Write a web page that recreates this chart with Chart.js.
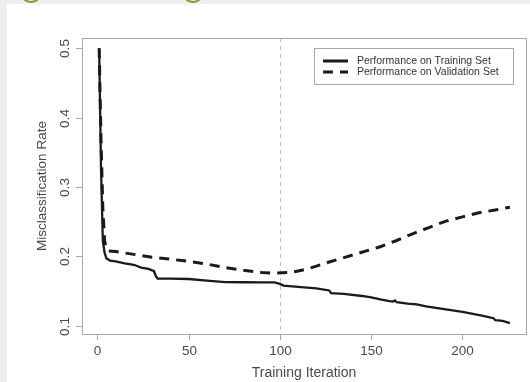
<!DOCTYPE html>
<html>
<head>
<meta charset="utf-8">
<script src="https://cdn.jsdelivr.net/npm/chart.js@4/dist/chart.umd.min.js"></script>
<style>
  html, body { margin: 0; padding: 0; width: 530px; height: 382px; overflow: hidden; background: #eeeeee; }
  #panel { position: absolute; left: 7px; top: 4px; right: 0; bottom: 0; background: #ffffff; }
  .ring { position: absolute; width: 18px; height: 18px; border: 2.5px solid #6e9e2f; border-radius: 50%; top: -19px; }
  #c { position: absolute; left: 0; top: 0; }
</style>
</head>
<body>
<div class="ring" style="left:20px"></div>
<div class="ring" style="left:182px"></div>
<div id="panel"></div>
<canvas id="c" width="530" height="382"></canvas>
<script>
// ---- data ----
const trainIter = [1, 2, 3, 4, 5, 7, 10, 15, 20, 24, 28, 30, 31, 32, 33, 40, 50, 60, 70, 80, 90, 97, 100, 102, 110, 120, 127, 128, 135, 145, 150, 155, 160, 162, 163, 164, 170, 175, 180, 190, 200, 210, 217, 218, 222, 226];
const trainRate = [0.5, 0.33, 0.222, 0.205, 0.197, 0.194, 0.193, 0.19, 0.188, 0.184, 0.182, 0.18, 0.179, 0.172, 0.168, 0.168, 0.1675, 0.165, 0.163, 0.1628, 0.1625, 0.1625, 0.1605, 0.158, 0.156, 0.154, 0.151, 0.147, 0.146, 0.143, 0.141, 0.138, 0.1355, 0.135, 0.1365, 0.134, 0.132, 0.131, 0.128, 0.124, 0.12, 0.115, 0.111, 0.108, 0.107, 0.104];
const validIter = [1, 2, 3, 4, 5, 6, 10, 20, 30, 40, 50, 60, 70, 80, 90, 96, 101, 106, 110, 115, 120, 127, 136, 146, 155, 164, 173, 182, 191, 200, 209, 218, 226];
const validRate = [0.5, 0.37, 0.27, 0.222, 0.211, 0.208, 0.207, 0.203, 0.199, 0.196, 0.193, 0.189, 0.184, 0.18, 0.177, 0.176, 0.1765, 0.177, 0.179, 0.182, 0.186, 0.192, 0.199, 0.207, 0.214, 0.223, 0.233, 0.242, 0.251, 0.257, 0.263, 0.267, 0.271];
const xTicks = [0, 50, 100, 150, 200];
const yTicks = [0.1, 0.2, 0.3, 0.4, 0.5];
const bestIter = 100;
const seriesNames = ['Performance on Training Set', 'Performance on Validation Set'];
const xTitle = 'Training Iteration';
const yTitle = 'Misclassification Rate';

const FONT = '"Liberation Sans", Arial, Helvetica, sans-serif';

const rPlot = {
  id: 'rPlot',
  beforeDatasetsDraw(chart) {
    const ctx = chart.ctx, a = chart.chartArea, xs = chart.scales.x;
    const px = Math.round(xs.getPixelForValue(bestIter)) + 0.5;
    ctx.save();
    ctx.strokeStyle = '#c4c4c4';
    ctx.lineWidth = 1;
    ctx.setLineDash([4, 4]);
    ctx.beginPath();
    ctx.moveTo(px, a.top);
    ctx.lineTo(px, a.bottom);
    ctx.stroke();
    ctx.restore();
  },
  afterDraw(chart) {
    const ctx = chart.ctx, a = chart.chartArea, xs = chart.scales.x, ys = chart.scales.y;
    ctx.save();
    // box
    ctx.strokeStyle = '#a8a8a8';
    ctx.lineWidth = 1;
    ctx.strokeRect(Math.round(a.left) + 0.5, Math.round(a.top) + 0.5, Math.round(a.right - a.left), Math.round(a.bottom - a.top));
    // x ticks
    ctx.fillStyle = '#4a4a4a';
    ctx.font = '13.5px ' + FONT;
    ctx.textAlign = 'center';
    ctx.textBaseline = 'middle';
    xTicks.forEach(v => {
      const p = Math.round(xs.getPixelForValue(v)) + 0.5;
      ctx.beginPath();
      ctx.moveTo(p, a.bottom);
      ctx.lineTo(p, a.bottom + 6);
      ctx.stroke();
      ctx.fillText(String(v), p, a.bottom + 17);
    });
    // y ticks
    yTicks.forEach(v => {
      const p = Math.round(ys.getPixelForValue(v)) + 0.5;
      ctx.beginPath();
      ctx.moveTo(a.left, p);
      ctx.lineTo(a.left - 6, p);
      ctx.stroke();
      ctx.save();
      ctx.translate(a.left - 17, p);
      ctx.rotate(-Math.PI / 2);
      ctx.fillText(v.toFixed(1), 0, 0);
      ctx.restore();
    });
    // titles
    ctx.font = '14px ' + FONT;
    ctx.fillText(xTitle, (a.left + a.right) / 2, a.bottom + 39);
    ctx.font = '13.5px ' + FONT;
    ctx.save();
    ctx.translate(a.left - 40, (a.top + a.bottom) / 2);
    ctx.rotate(-Math.PI / 2);
    ctx.fillText(yTitle, 0, 0);
    ctx.restore();
    // legend
    const lx = 314.5, ly = 48.5, lw = 199, lh = 36;
    ctx.fillStyle = '#ffffff';
    ctx.fillRect(lx, ly, lw, lh);
    ctx.strokeStyle = '#a8a8a8';
    ctx.strokeRect(lx, ly, lw, lh);
    const rows = [61, 72];
    chart.data.datasets.forEach((ds, i) => {
      ctx.strokeStyle = ds.borderColor;
      ctx.lineWidth = 3;
      ctx.setLineDash(ds.borderDash || []);
      ctx.beginPath();
      ctx.moveTo(323, rows[i]);
      ctx.lineTo(348, rows[i]);
      ctx.stroke();
      ctx.setLineDash([]);
      ctx.fillStyle = '#333333';
      ctx.font = '10.5px ' + FONT;
      ctx.textAlign = 'left';
      ctx.fillText(ds.label, 357, rows[i] + 0.5);
    });
    ctx.restore();
  }
};

new Chart(document.getElementById('c'), {
  type: 'line',
  data: {
    datasets: [
      {
        label: seriesNames[0],
        data: trainIter.map((x, i) => ({ x: x, y: trainRate[i] })),
        borderColor: '#1a1a1a',
        borderWidth: 2.3,
        pointRadius: 0,
        tension: 0,
        fill: false
      },
      {
        label: seriesNames[1],
        data: validIter.map((x, i) => ({ x: x, y: validRate[i] })),
        borderColor: '#1a1a1a',
        borderWidth: 3,
        borderDash: [10, 7],
        pointRadius: 0,
        tension: 0,
        fill: false
      }
    ]
  },
  options: {
    responsive: false,
    animation: false,
    devicePixelRatio: 1,
    layout: { padding: { left: 82, top: 38, right: 4, bottom: 48 } },
    scales: {
      x: { type: 'linear', min: -8.4, max: 234.8, display: false },
      y: { type: 'linear', min: 0.0882, max: 0.5149, display: false }
    },
    plugins: { legend: { display: false }, tooltip: { enabled: false } }
  },
  plugins: [rPlot]
});
</script>
</body>
</html>
